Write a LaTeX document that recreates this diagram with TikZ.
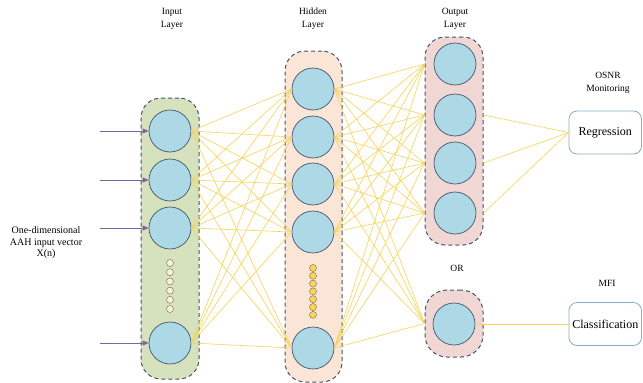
\documentclass[tikz,border=0pt]{standalone}
\usepackage{fontspec}
\setmainfont{Liberation Serif}
\usetikzlibrary{arrows.meta,calc}
\definecolor{ingreen}{HTML}{D6E2BE}
\definecolor{hidpeach}{HTML}{FBE5D6}
\definecolor{outpink}{HTML}{F0D7D4}
\definecolor{cblue}{HTML}{ADD8E6}
\definecolor{cborder}{HTML}{44546A}
\definecolor{wirecol}{HTML}{F7D354}
\definecolor{arrowcol}{HTML}{8064A2}
\definecolor{boxborder}{HTML}{86ADC2}
\definecolor{creamdot}{HTML}{FFF2CC}
\definecolor{yellowdot}{HTML}{FFD54F}
\begin{document}
\begin{tikzpicture}[x=1pt,y=-1pt,
  lbox/.style={draw=cborder, dash pattern=on 4pt off 3pt, line width=1pt, rounded corners=20pt, inner sep=0pt},
  neuron/.style={circle, draw=cborder, fill=cblue, minimum size=42pt, inner sep=0pt, line width=0.7pt},
  sdot/.style={circle, draw=gray!80!black, line width=0.4pt, minimum size=7pt, inner sep=0pt},
  wire/.style={draw=wirecol, line width=0.6pt},
  inarrow/.style={draw=arrowcol, line width=0.8pt, -{Triangle[length=6pt,width=5pt]}},
  resbox/.style={draw=boxborder, fill=white, rounded corners=8pt, line width=0.8pt, minimum width=72.5pt, minimum height=43pt, inner sep=0pt, font=\fontsize{12}{14}\selectfont},
  lbl/.style={align=center, font=\fontsize{9.5}{13}\selectfont, inner sep=0pt}]
\useasboundingbox (0,0) rectangle (643,383);
% layer boxes
\node[lbox, fill=ingreen, minimum width=58pt, minimum height=281pt] (inbox) at (170,238.5) {};
\node[lbox, fill=hidpeach, minimum width=57pt, minimum height=331pt] (hidbox) at (313.5,216.5) {};
\node[lbox, fill=outpink, minimum width=58pt, minimum height=208pt] (obox) at (454,141) {};
\node[lbox, fill=outpink, minimum width=58pt, minimum height=67pt, rounded corners=22pt] (obox2) at (454,323.5) {};
% neurons
\foreach \n/\y in {1/131,2/180,3/228,4/343} \node[neuron] (i\n) at (170,\y) {};
\foreach \n/\y in {1/89,2/137,3/184,4/232,5/348} \node[neuron] (h\n) at (313,\y) {};
\foreach \n/\y in {1/64,2/115,3/163,4/213} \node[neuron] (o\n) at (455,\y) {};
\node[neuron] (o5) at (454,324) {};
% small dots
\foreach \k in {0,...,5} \node[sdot, fill=creamdot] (id\k) at (170,263+9.2*\k) {};
\foreach \k in {0,...,6} \node[sdot, fill=yellowdot] (hd\k) at (313,268+7.8*\k) {};
% result boxes
\node[resbox] (reg) at (605.25,132.5) {Regression};
\node[resbox] (cls) at (605.25,324) {Classification};
% wires
\foreach \a in {1,...,4} \foreach \b in {1,...,5} \draw[wire] (i\a.east) -- (h\b.west);
\foreach \a in {1,...,5} {
  \foreach \b in {1,...,4} \draw[wire] (h\a.east) -- (o\b -| obox.west);
  \draw[wire] (h\a.east) -- (obox2.west);
}
\foreach \b in {2,3,4} \draw[wire] (o\b -| obox.east) -- (reg.west);
\draw[wire] (o5.east) -- (cls.west);
% input arrows
\foreach \n in {1,...,4} {
  \coordinate (s\n) at ($(i\n.west)+(-49,0)$);
  \draw[inarrow] (s\n) -- (i\n.west);
}
% labels
\node[lbl] (linput) at (172,18.5) {Input\\Layer};
\node[lbl] (lhidden) at (313,18.5) {Hidden\\Layer};
\node[lbl] (loutput) at (455,18.5) {Output\\Layer};
\node[lbl] (losnr) at (608,83) {OSNR\\Monitoring};
\node[lbl] (lor) at (457,268) {OR};
\node[lbl] (lmfi) at (607,283) {MFI};
\node[lbl, font=\fontsize{10}{11.5}\selectfont] (lvec) at (46,243) {One-dimensional\\AAH input vector\\X(n)};
\end{tikzpicture}
\end{document}
